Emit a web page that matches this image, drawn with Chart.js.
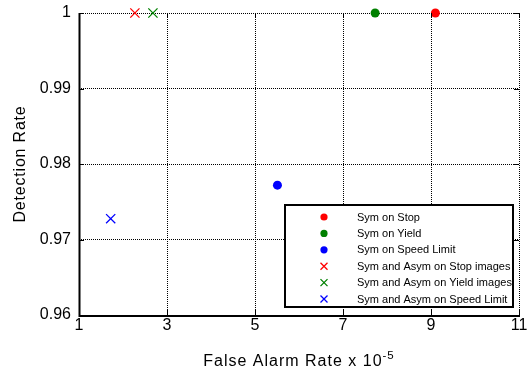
<!DOCTYPE html>
<html>
<head>
<meta charset="utf-8">
<script src="https://cdn.jsdelivr.net/npm/chart.js@4.4.1/dist/chart.umd.min.js"></script>
<style>
  html, body { margin: 0; padding: 0; background: #fff; }
  #wrap { width: 530px; height: 372px; }
</style>
</head>
<body>
<div id="wrap"><canvas id="roc"></canvas></div>
<script>
// series names, as in the legend
var seriesNames = [
    "Sym on Stop",
    "Sym on Yield",
    "Sym on Speed Limit",
    "Sym and Asym on Stop images",
    "Sym and Asym on Yield images",
    "Sym and Asym on Speed Limit",
];
// one point per series
var falseAlarm = [9.1, 7.73, 5.51, 2.27, 2.68, 1.72];
var detectionRate = [1, 1, 0.9772, 1, 1, 0.97275];

var xTicks = [1, 3, 5, 7, 9, 11];
var yTicks = [0.96, 0.97, 0.98, 0.99, 1];
var yTickLabels = ["0.96", "0.97", "0.98", "0.99", "1"];

var colors = ["#ff0000", "#008000", "#0000ff", "#ff0000", "#008000", "#0000ff"];
var shapes = ["circle", "circle", "circle", "crossRot", "crossRot", "crossRot"];

var FONT = "'Liberation Sans', Arial, sans-serif";

var datasets = seriesNames.map(function (name, i) {
    return {
        label: name,
        data: [{ x: falseAlarm[i], y: detectionRate[i] }],
        pointStyle: shapes[i],
        pointRadius: shapes[i] == "circle" ? 4.5 : 6.5,
        pointBorderWidth: shapes[i] == "circle" ? 0 : 1.3,
        backgroundColor: colors[i],
        borderColor: colors[i],
        clip: false,
    };
});

// axes box, inward ticks, axis titles and the boxed legend
var matlabLook = {
    id: "matlabLook",
    afterDatasetsDraw: function (chart) {
        var ctx = chart.ctx;
        var a = chart.chartArea;
        var xs = chart.scales.x, ys = chart.scales.y;
        ctx.save();

        // inward ticks
        ctx.strokeStyle = "#000";
        ctx.lineWidth = 1;
        ctx.beginPath();
        xTicks.forEach(function (v) {
            var px = Math.round(xs.getPixelForValue(v)) + 0.5;
            ctx.moveTo(px, a.bottom); ctx.lineTo(px, a.bottom - 5);
            ctx.moveTo(px, a.top); ctx.lineTo(px, a.top + 5);
        });
        yTicks.forEach(function (v) {
            var py = Math.round(ys.getPixelForValue(v)) + 0.5;
            ctx.moveTo(a.left, py); ctx.lineTo(a.left + 5, py);
            ctx.moveTo(a.right, py); ctx.lineTo(a.right - 5, py);
        });
        ctx.stroke();

        // left and bottom axis lines
        ctx.lineWidth = 2;
        ctx.beginPath();
        ctx.moveTo(a.left + 0.5, a.top);
        ctx.lineTo(a.left + 0.5, a.bottom + 1);
        ctx.lineTo(a.right + 1, a.bottom + 1);
        ctx.stroke();

        // legend box
        var bx = 285, by = 205, bw = 228, bh = 102;
        ctx.fillStyle = "#fff";
        ctx.fillRect(bx, by, bw, bh);
        ctx.lineWidth = 2;
        ctx.strokeRect(bx, by, bw, bh);
        ctx.font = "11px " + FONT;
        ctx.textBaseline = "middle";
        ctx.textAlign = "left";
        seriesNames.forEach(function (name, i) {
            var cy = by + 12 + i * 16.4;
            var cx = bx + 39;
            ctx.fillStyle = colors[i];
            ctx.strokeStyle = colors[i];
            if (shapes[i] == "circle") {
                ctx.beginPath();
                ctx.arc(cx, cy, 3.6, 0, Math.PI * 2);
                ctx.fill();
            } else {
                ctx.lineWidth = 1.3;
                ctx.beginPath();
                ctx.moveTo(cx - 3.5, cy - 3.5); ctx.lineTo(cx + 3.5, cy + 3.5);
                ctx.moveTo(cx - 3.5, cy + 3.5); ctx.lineTo(cx + 3.5, cy - 3.5);
                ctx.stroke();
            }
            ctx.fillStyle = "#000";
            ctx.fillText(name, bx + 72, cy + 0.5);
        });

        // x title with superscript
        var mainTxt = "False Alarm Rate x 10";
        var supTxt = "-5";
        ctx.fillStyle = "#000";
        ctx.textBaseline = "alphabetic";
        ctx.letterSpacing = "1px";
        ctx.font = "16px " + FONT;
        var w1 = ctx.measureText(mainTxt).width;
        ctx.font = "11.5px " + FONT;
        var w2 = ctx.measureText(supTxt).width;
        var x0 = (a.left + a.right) / 2 - (w1 + w2) / 2;
        ctx.font = "16px " + FONT;
        ctx.fillText(mainTxt, x0, 366);
        ctx.font = "11.5px " + FONT;
        ctx.fillText(supTxt, x0 + w1, 359);

        // y title
        ctx.letterSpacing = "0.8px";
        ctx.font = "16px " + FONT;
        ctx.translate(25, (a.top + a.bottom) / 2);
        ctx.rotate(-Math.PI / 2);
        ctx.textAlign = "center";
        ctx.fillText("Detection Rate", 0, 0);
        ctx.restore();
    },
};

var rocChart = new Chart(document.getElementById("roc").getContext("2d"), {
    type: "scatter",
    data: { datasets: datasets },
    options: {
        responsive: true,
        maintainAspectRatio: false,
        animation: false,
        layout: { padding: { top: 13, right: 11, left: 0, bottom: 0 } },
        plugins: {
            legend: { display: false },
            tooltip: { enabled: false },
        },
        scales: {
            x: {
                type: "linear",
                min: 1,
                max: 11,
                afterBuildTicks: function (scale) {
                    scale.ticks = xTicks.map(function (v) { return { value: v }; });
                },
                afterFit: function (scale) {
                    scale.height = 57;
                    scale.paddingLeft = 0;
                    scale.paddingRight = 0;
                },
                ticks: {
                    color: "#000",
                    padding: 1,
                    maxRotation: 0,
                    font: { family: FONT, size: 16 },
                },
                grid: { color: "#000", lineWidth: 1, drawTicks: false },
                border: { display: false, dash: [1, 1] },
            },
            y: {
                type: "linear",
                min: 0.96,
                max: 1,
                afterBuildTicks: function (scale) {
                    scale.ticks = yTicks.map(function (v) { return { value: v }; });
                },
                afterFit: function (scale) {
                    scale.width = 79;
                    scale.paddingTop = 0;
                    scale.paddingBottom = 0;
                },
                ticks: {
                    color: "#000",
                    padding: 8,
                    font: { family: FONT, size: 16 },
                    callback: function (v) {
                        var k = yTicks.indexOf(v);
                        return k >= 0 ? yTickLabels[k] : "";
                    },
                },
                grid: { color: "#000", lineWidth: 1, drawTicks: false },
                border: { display: false, dash: [1, 1] },
            },
        },
    },
    plugins: [matlabLook],
});
</script>
</body>
</html>
